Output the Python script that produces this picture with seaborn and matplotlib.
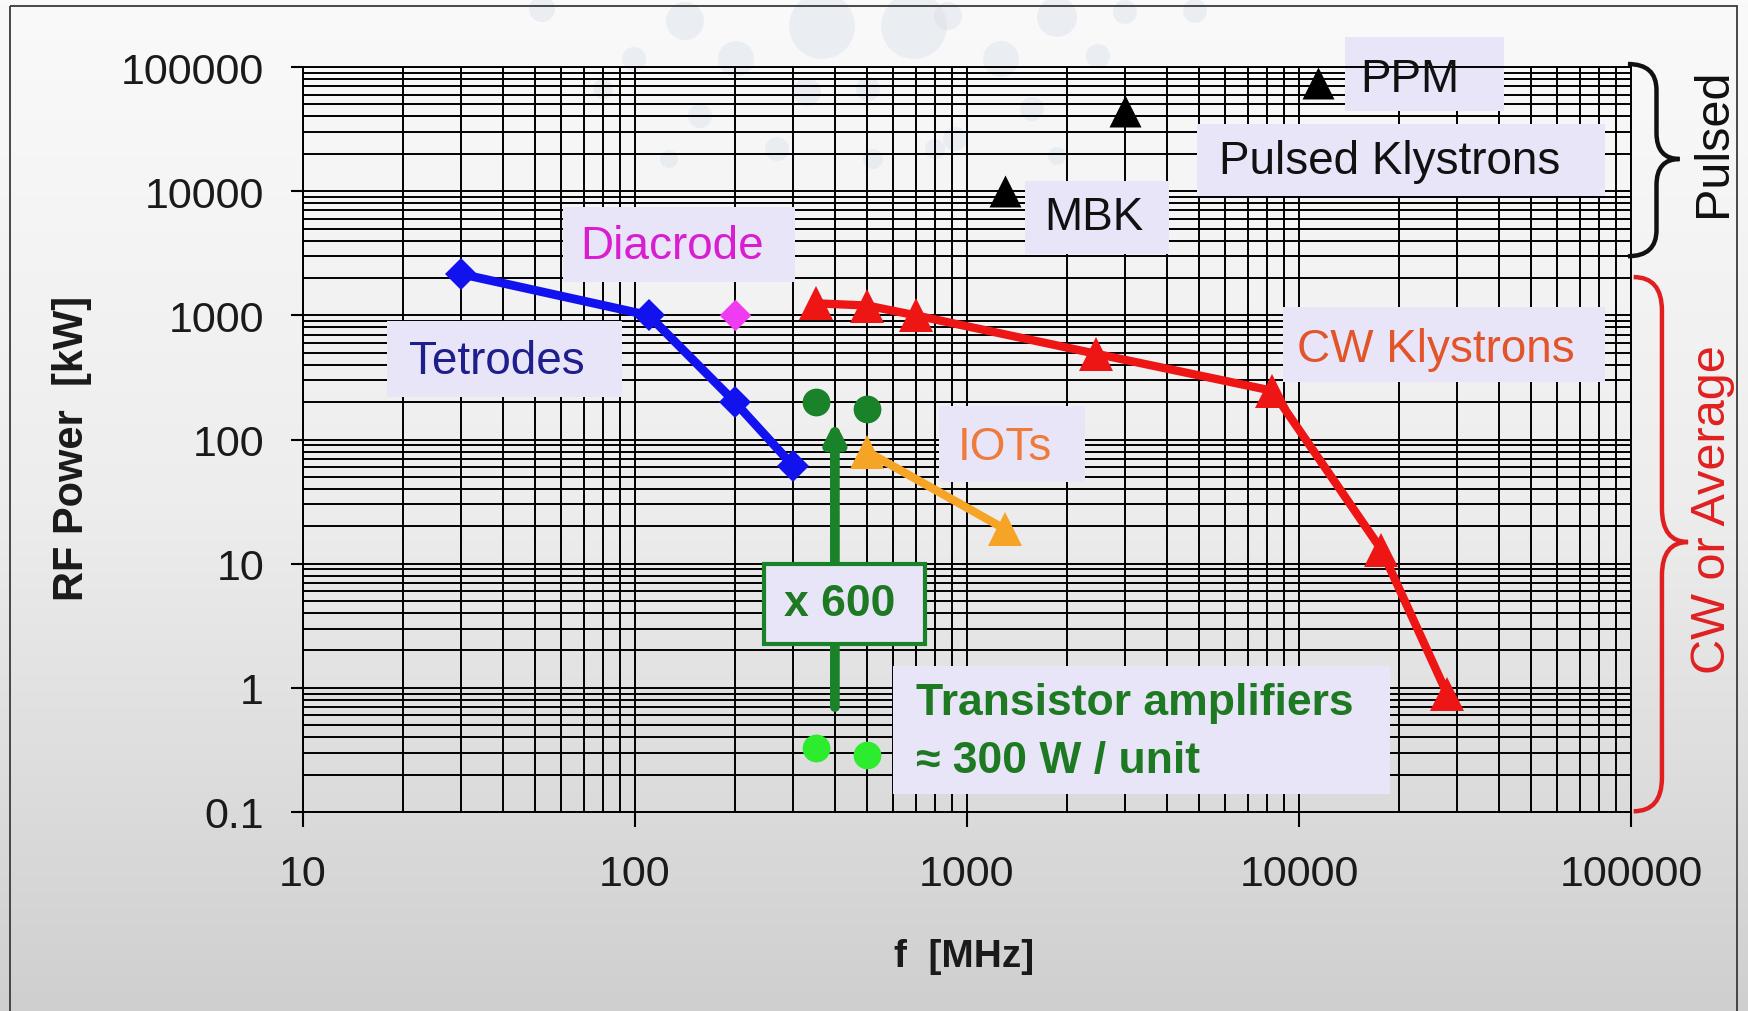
import numpy as np
import matplotlib
matplotlib.use("Agg")
import matplotlib.pyplot as plt
import seaborn as sns
from matplotlib.path import Path
from matplotlib.patches import PathPatch, Rectangle, Circle
from matplotlib.colors import LinearSegmentedColormap
from matplotlib.ticker import LogLocator, NullFormatter, FixedLocator, FixedFormatter

# ---------------- data (frequency in MHz, RF power in kW) ----------------
tetrode_f = [30, 110, 200, 300]
tetrode_p = [2150, 1000, 200, 61]
diacrode_f = [200]
diacrode_p = [1000]
cw_klystron_f = [350, 500, 700, 2450, 8300, 17700, 27900]
cw_klystron_p = [1250, 1200, 1000, 490, 247, 13, 0.9]
iot_f = [500, 1300]
iot_p = [80, 19]
pulsed_f = [1300, 3000, 11400]
pulsed_p = [10000, 44300, 74300]
transistor_f = [350, 500]
transistor_unit_p = [0.33, 0.29]
transistor_combined_p = [200, 175]
arrow_f = 400
arrow_p = [0.7, 140]
x_ticks = [10, 100, 1000, 10000, 100000]
x_ticklabels = ["10", "100", "1000", "10000", "100000"]
y_ticks = [0.1, 1, 10, 100, 1000, 10000, 100000]
y_ticklabels = ["0.1", "1", "10", "100", "1000", "10000", "100000"]

# ---------------- style ----------------
sns.set_theme(style="white")
plt.rcParams["font.family"] = ["Liberation Sans", "DejaVu Sans"]
plt.rcParams["axes.unicode_minus"] = False

BLUE = "#1212EE"
MAGENTA = "#F03CF0"
DIACRODE_TXT = "#D81ED0"
TET_TXT = "#1E1E8C"
RED = "#EE1515"
CW_TXT = "#E2542A"
ORANGE = "#F5A425"
IOT_TXT = "#EE7A3C"
GREEN = "#1A8228"
GREEN_TXT = "#1E7A22"
LIME = "#2DEB2D"
BOX = "#E9E5F8"

W, H = 1749, 1012
fig = plt.figure(figsize=(W / 100, H / 100), dpi=100)

# background gradient + faint decorative dots + frame
bg = fig.add_axes([0, 0, 1, 1], zorder=-10)
cmap = LinearSegmentedColormap.from_list("bg", ["#FAFAFA", "#EDEDED", "#CFCFCF"])
bg.imshow(np.linspace(0, 1, 256)[:, None], aspect="auto", cmap=cmap,
          extent=[0, W, H, 0])
dots = [(542, 10, 13), (685, 22, 19), (822, 27, 33), (914, 27, 33), (1057, 18, 20),
        (1195, 12, 12), (634, 60, 12), (736, 60, 18), (1001, 60, 18), (1098, 57, 12),
        (700, 117, 12), (807, 93, 14), (868, 90, 12), (777, 150, 12), (1032, 110, 12),
        (935, 150, 10), (669, 160, 9), (955, 140, 12), (1057, 157, 9), (873, 160, 10),
        (603, 90, 10), (948, 17, 14), (1125, 13, 12)]
for cx, cy, r in dots:
    bg.add_patch(Circle((cx, cy), r, fc="#DDE3EB", ec="none", alpha=0.5))
bg.add_patch(Rectangle((10, 7), 1727, 1010, fill=False, ec="#3A3A3A", lw=1.3))
bg.set_xlim(0, W)
bg.set_ylim(H, 0)
bg.axis("off")

# main axes
ax = fig.add_axes([303 / W, 1 - 813 / H, (1631 - 303) / W, (813 - 68) / H])
ax.patch.set_alpha(0)
ax.set_xscale("log")
ax.set_yscale("log")
ax.set_xlim(10, 100000)
ax.set_ylim(0.1, 100000)
ax.set_axisbelow(True)
ax.xaxis.set_major_locator(FixedLocator(x_ticks))
ax.xaxis.set_major_formatter(FixedFormatter(x_ticklabels))
ax.yaxis.set_major_locator(FixedLocator(y_ticks))
ax.yaxis.set_major_formatter(FixedFormatter(y_ticklabels))
for axis in (ax.xaxis, ax.yaxis):
    axis.set_minor_locator(LogLocator(base=10, subs=np.arange(2, 10), numticks=100))
    axis.set_minor_formatter(NullFormatter())
ax.grid(which="both", color="black", lw=1.4)
ax.tick_params(which="minor", length=0)
ax.tick_params(axis="y", which="major", left=True, length=9, width=1.5,
               color="black", pad=19, labelsize=31, labelcolor="#1A1A1A")
ax.tick_params(axis="x", which="major", bottom=True, length=11, width=1.5,
               color="black", pad=19, labelsize=31, labelcolor="#1A1A1A")
for sp in ax.spines.values():
    sp.set_color("black")
    sp.set_linewidth(1.4)

ax.set_ylabel("RF Power  [kW]", fontsize=30, fontweight="bold", color="#1A1A1A")
ax.yaxis.label.set_va("center")
ax.yaxis.set_label_coords(-0.174, 0.49)
ax.set_xlabel("f  [MHz]", fontsize=28, fontweight="bold", color="#1A1A1A")
ax.xaxis.label.set_va("center")
ax.xaxis.set_label_coords(0.498, -0.193)

# ---------------- label boxes (axes fraction) ----------------
def box(x0, x1, y0, y1, z=1.5, ec="none", lw=0):
    ax.add_patch(Rectangle((x0, y0), x1 - x0, y1 - y0, transform=ax.transAxes,
                           fc=BOX, ec=ec, lw=lw, zorder=z, clip_on=False))

def label(x, y, s, color, size=33, weight="normal", ha="center", rot=0, z=6):
    ax.text(x, y, s, transform=ax.transAxes, ha=ha, va="center", fontsize=size,
            color=color, fontweight=weight, rotation=rot, zorder=z, clip_on=False)

box(0.1955, 0.3706, 0.7110, 0.8117)
label(0.2776, 0.7601, "Diacrode", DIACRODE_TXT)
box(0.0636, 0.2400, 0.5566, 0.6595)
label(0.1458, 0.6058, "Tetrodes", TET_TXT)
box(0.7845, 0.9047, 0.9413, 1.0399)
label(0.8334, 0.9839, "PPM", "#111111")
box(0.6734, 0.9804, 0.8272, 0.9235)
label(0.8182, 0.8742, "Pulsed Klystrons", "#111111")
box(0.5437, 0.6518, 0.7490, 0.8474)
label(0.5956, 0.7983, "MBK", "#111111")
box(0.7383, 0.9804, 0.5768, 0.6774)
label(0.8528, 0.6215, "CW Klystrons", CW_TXT)
box(0.4789, 0.5892, 0.4426, 0.5454)
label(0.5286, 0.4895, "IOTs", IOT_TXT)
box(0.4443, 0.8182, 0.0242, 0.1964)
label(0.4616, 0.1472, "Transistor amplifiers", GREEN_TXT, size=32, weight="bold", ha="left")
label(0.4616, 0.0689, "\u2248 300 W / unit", GREEN_TXT, size=32, weight="bold", ha="left")
box(0.3468, 0.4681, 0.2255, 0.3329, z=4, ec=GREEN, lw=3)
label(0.4044, 0.2805, "x 600", GREEN_TXT, size=32, weight="bold")

label(1.0625, 0.899, "Pulsed", "#111111", size=35, rot=90)
label(1.061, 0.407, "CW or Average", "#E02020", size=35, rot=90)

# ---------------- curly braces ----------------
def brace(x_tip, x_spine, x_point, y_top, y_mid, y_bot, r, color):
    verts = [(x_tip, y_top), (x_spine, y_top), (x_spine, y_top - r),
             (x_spine, y_mid + r), (x_spine, y_mid), (x_point, y_mid),
             (x_spine, y_mid), (x_spine, y_mid - r),
             (x_spine, y_bot + r), (x_spine, y_bot), (x_tip, y_bot)]
    codes = [Path.MOVETO, Path.CURVE3, Path.CURVE3,
             Path.LINETO, Path.CURVE3, Path.CURVE3,
             Path.CURVE3, Path.CURVE3,
             Path.LINETO, Path.CURVE3, Path.CURVE3]
    ax.add_patch(PathPatch(Path(verts, codes), transform=ax.transAxes, fc="none",
                           ec=color, lw=3.2, clip_on=False, zorder=5))

brace(0.9977, 1.0192, 1.0365, 1.004, 0.8765, 0.746, 0.035, "#111111")
brace(1.002, 1.0233, 1.043, 0.718, 0.3624, 0.001, 0.045, "#E02020")

# ---------------- data series ----------------
sns.lineplot(x=tetrode_f, y=tetrode_p, ax=ax, color=BLUE, lw=6.3, marker="D",
             markersize=16.5, markeredgewidth=0, estimator=None, zorder=3)
sns.scatterplot(x=diacrode_f, y=diacrode_p, ax=ax, color=MAGENTA, marker="D",
                s=260, linewidth=0, zorder=3)
sns.lineplot(x=cw_klystron_f, y=cw_klystron_p, ax=ax, color=RED, lw=6, marker="^",
             markersize=24, markeredgewidth=0, estimator=None, zorder=3)
sns.lineplot(x=iot_f, y=iot_p, ax=ax, color=ORANGE, lw=6, marker="^",
             markersize=24, markeredgewidth=0, estimator=None, zorder=3)
sns.scatterplot(x=pulsed_f, y=pulsed_p, ax=ax, color="black", marker="^",
                s=530, linewidth=0, zorder=3)
sns.scatterplot(x=transistor_f, y=transistor_combined_p, ax=ax, color=GREEN,
                marker="o", s=400, linewidth=0, zorder=3)
sns.scatterplot(x=transistor_f, y=transistor_unit_p, ax=ax, color=LIME,
                marker="o", s=400, linewidth=0, zorder=3)

ax.annotate("", xy=(arrow_f, arrow_p[1]), xytext=(arrow_f, arrow_p[0]),
            arrowprops=dict(arrowstyle="-|>,head_length=0.55,head_width=0.28",
                            lw=7, color=GREEN, shrinkA=0, shrinkB=0,
                            mutation_scale=20), zorder=3)

ax.set_xlim(10, 100000)
ax.set_ylim(0.1, 100000)

fig.savefig("out.png", dpi=100)
